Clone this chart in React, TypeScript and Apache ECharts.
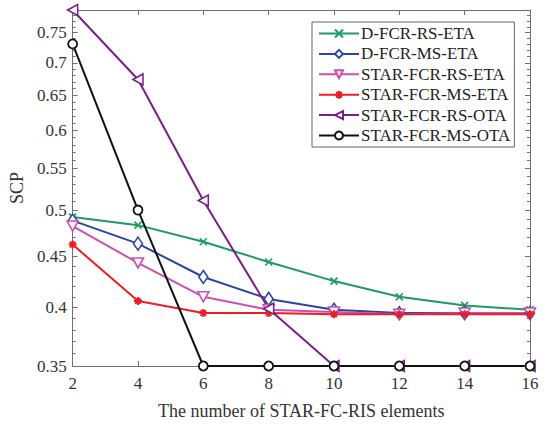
import React, { useEffect, useRef } from "react";
import * as echarts from "echarts";

const xs = [2, 4, 6, 8, 10, 12, 14, 16];
const dFcrRsEta = [0.492, 0.483, 0.465, 0.444, 0.425, 0.41, 0.402, 0.398];
const dFcrMsEta = [0.488, 0.463, 0.429, 0.408, 0.398, 0.395, 0.395, 0.395];
const starFcrRsEta = [0.482, 0.443, 0.41, 0.398, 0.396, 0.394, 0.395, 0.395];
const starFcrMsEta = [0.462, 0.406, 0.395, 0.395, 0.394, 0.394, 0.394, 0.394];
const starFcrRsOta = [0.79, 0.674, 0.511, 0.399, 0.35, 0.35, 0.35, 0.35];
const starFcrMsOta = [0.731, 0.5, 0.35, 0.35, 0.35, 0.35, 0.35, 0.35];
const yTickLabels = [0.35, 0.4, 0.45, 0.5, 0.55, 0.6, 0.65, 0.7, 0.75];
const yMin = 0.35;
const yMax = 0.79;

const FONT = "'Liberation Serif', 'Times New Roman', serif";
const AXIS_COLOR = "#707070";
const TEXT_COLOR = "#333";

const minorTicks: number[] = [];
for (let i = 0; i <= 44; i++) minorTicks.push(Number((0.35 + i * 0.01).toFixed(2)));

const ln = (v: number) => Math.log(v);

type SDef = {
  name: string;
  data: number[];
  color: string;
  symbol: string;
  size: number | number[];
  fill: string;
  bw: number;
};

const seriesDefs: SDef[] = [
  { name: "D-FCR-RS-ETA", data: dFcrRsEta, color: "#1E9A66", symbol: "path://M0,0L10,10M10,0L0,10M5,3L5,7", size: 7, fill: "#1E9A66", bw: 1.6 },
  { name: "D-FCR-MS-ETA", data: dFcrMsEta, color: "#2A46A0", symbol: "diamond", size: [9, 13], fill: "#fff", bw: 1.6 },
  { name: "STAR-FCR-RS-ETA", data: starFcrRsEta, color: "#CC4FB2", symbol: "path://M0,0L10,0L5,9Z", size: [11, 10], fill: "#fff", bw: 1.6 },
  { name: "STAR-FCR-MS-ETA", data: starFcrMsEta, color: "#EE1C25", symbol: "path://M5,0L5,10M0,5L10,5M1.5,1.5L8.5,8.5M8.5,1.5L1.5,8.5", size: 8, fill: "#EE1C25", bw: 2 },
  { name: "STAR-FCR-RS-OTA", data: starFcrRsOta, color: "#7A1F88", symbol: "path://M0,5L9,0L9,10Z", size: [10, 11], fill: "#fff", bw: 1.6 },
  { name: "STAR-FCR-MS-OTA", data: starFcrMsOta, color: "#111111", symbol: "circle", size: 9, fill: "#fff", bw: 1.8 },
];

export default function App() {
  const ref = useRef<HTMLDivElement>(null);
  useEffect(() => {
    if (!ref.current) return;
    const chart = echarts.init(ref.current, undefined, { renderer: "svg" });
    const yCommon = {
      type: "value" as const,
      min: ln(yMin),
      max: ln(yMax),
      splitLine: { show: false },
    };
    const fmt = (v: number) => String(Number(Math.exp(v).toFixed(2)));
    chart.setOption({
      animation: false,
      backgroundColor: "#fff",
      grid: { left: 72, right: 17, top: 10, bottom: 55, containLabel: false },
      legend: {
        orient: "vertical",
        left: 312,
        top: 22,
        padding: [3, 4, 3, 6],
        itemWidth: 40,
        itemHeight: 10,
        itemGap: 3.4,
        borderColor: "#666",
        borderWidth: 1,
        backgroundColor: "#fff",
        textStyle: { fontFamily: FONT, fontSize: 17, color: "#222", lineHeight: 13, padding: [0, 0, 0, -3] },
        data: seriesDefs.map((s) => s.name),
      },
      xAxis: [
        {
          type: "value",
          min: 2,
          max: 16,
          interval: 2,
          position: "bottom",
          name: "The number of STAR-FC-RIS elements",
          nameLocation: "middle",
          nameGap: 36,
          nameTextStyle: { fontFamily: FONT, fontSize: 18, color: TEXT_COLOR },
          axisLine: { show: true, lineStyle: { color: AXIS_COLOR, width: 1 } },
          axisTick: { show: true, inside: true, length: 5, lineStyle: { color: AXIS_COLOR } },
          axisLabel: { fontFamily: FONT, fontSize: 17, color: TEXT_COLOR, margin: 9 },
          splitLine: { show: false },
        },
        {
          type: "value",
          min: 2,
          max: 16,
          interval: 2,
          position: "top",
          axisLine: { show: true, lineStyle: { color: AXIS_COLOR, width: 1 } },
          axisTick: { show: true, inside: true, length: 5, lineStyle: { color: AXIS_COLOR } },
          axisLabel: { show: false },
          splitLine: { show: false },
        },
      ],
      yAxis: [
        {
          ...yCommon,
          position: "left",
          name: "SCP",
          nameLocation: "middle",
          nameGap: 43,
          nameRotate: 90,
          nameTextStyle: { fontFamily: FONT, fontSize: 18, color: TEXT_COLOR },
          axisLine: { show: true, lineStyle: { color: AXIS_COLOR, width: 1 } },
          axisTick: { show: true, inside: true, length: 5, customValues: yTickLabels.map(ln), lineStyle: { color: AXIS_COLOR } },
          axisLabel: { show: true, customValues: yTickLabels.map(ln), formatter: fmt, fontFamily: FONT, fontSize: 17, color: TEXT_COLOR, margin: 6 },
        },
        {
          ...yCommon,
          position: "left",
          axisLine: { show: false },
          axisTick: { show: true, inside: true, length: 3, customValues: minorTicks.map(ln), lineStyle: { color: AXIS_COLOR } },
          axisLabel: { show: false },
        },
        {
          ...yCommon,
          position: "right",
          axisLine: { show: true, lineStyle: { color: AXIS_COLOR, width: 1 } },
          axisTick: { show: true, inside: true, length: 5, customValues: yTickLabels.map(ln), lineStyle: { color: AXIS_COLOR } },
          axisLabel: { show: false },
        },
        {
          ...yCommon,
          position: "right",
          axisLine: { show: false },
          axisTick: { show: true, inside: true, length: 3, customValues: minorTicks.map(ln), lineStyle: { color: AXIS_COLOR } },
          axisLabel: { show: false },
        },
      ],
      series: seriesDefs.map((s) => ({
        name: s.name,
        type: "line",
        xAxisIndex: 0,
        yAxisIndex: 0,
        clip: false,
        data: xs.map((x, i) => [x, ln(s.data[i])]),
        symbol: s.symbol,
        symbolSize: s.size,
        showAllSymbol: true,
        lineStyle: { color: s.color, width: 2 },
        itemStyle: { color: s.fill, borderColor: s.color, borderWidth: s.bw },
        emphasis: { disabled: true },
      })),
    });
    return () => chart.dispose();
  }, []);
  return (
    <div
      ref={ref}
      style={{ position: "fixed", left: 0, top: 0, width: 547, height: 425 }}
    />
  );
}
